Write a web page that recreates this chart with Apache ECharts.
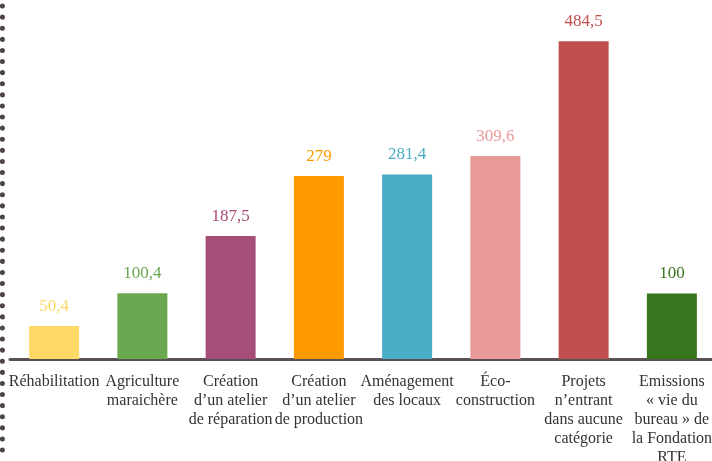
<!DOCTYPE html>
<html>
<head>
<meta charset="utf-8">
<script src="https://cdn.jsdelivr.net/npm/echarts@6/dist/echarts.min.js"></script>
<style>
  html, body { margin: 0; padding: 0; background: #fff; }
  #chart { width: 712px; height: 461px; }
</style>
</head>
<body>
<div id="chart"></div>
<script>
// categories and values
const categories = [
    'Réhabilitation',
    'Agriculture\nmaraichère',
    'Création\nd’un atelier\nde réparation',
    'Création\nd’un atelier\nde production',
    'Aménagement\ndes locaux',
    'Éco-\nconstruction',
    'Projets\nn’entrant\ndans aucune\ncatégorie',
    'Emissions\n« vie du\nbureau » de\nla Fondation\nRTE'
];
const amounts = [50.4, 100.4, 187.5, 279, 281.4, 309.6, 484.5, 100];
const barColors = ['#FFD966', '#6AA84F', '#A64D79', '#FF9900', '#4BACC6', '#EA9999', '#C0504D', '#38761D'];

const serif = '"Liberation Serif", "DejaVu Serif", serif';

const chart = echarts.init(document.getElementById('chart'));
chart.setOption({
    animation: false,
    grid: { left: 10, right: -4, top: 31, bottom: 102, containLabel: false, outerBoundsMode: 'none' },
    graphic: [{
        type: 'line',
        shape: { x1: 2.4, y1: 6, x2: 2.4, y2: 461 },
        style: { stroke: '#4e4447', lineWidth: 5, lineCap: 'round', lineDash: [0.1, 11] },
        silent: true
    }],
    xAxis: {
        type: 'category',
        data: categories,
        axisLine: { show: true, lineStyle: { color: '#595154', width: 3 } },
        axisTick: { show: false },
        axisLabel: {
            interval: 0,
            margin: 13,
            fontFamily: serif,
            fontSize: 16,
            lineHeight: 19,
            color: '#333333',
            align: 'center'
        }
    },
    yAxis: {
        type: 'value',
        min: 0,
        max: 500,
        show: false,
        splitLine: { show: false }
    },
    series: [{
        type: 'bar',
        barWidth: 50,
        data: amounts.map((v, i) => ({
            value: v,
            itemStyle: { color: barColors[i] },
            label: { color: barColors[i] }
        })),
        label: {
            show: true,
            position: 'top',
            distance: 11,
            fontFamily: serif,
            fontSize: 17,
            formatter: p => String(p.value).replace('.', ',')
        }
    }]
});
</script>
</body>
</html>
